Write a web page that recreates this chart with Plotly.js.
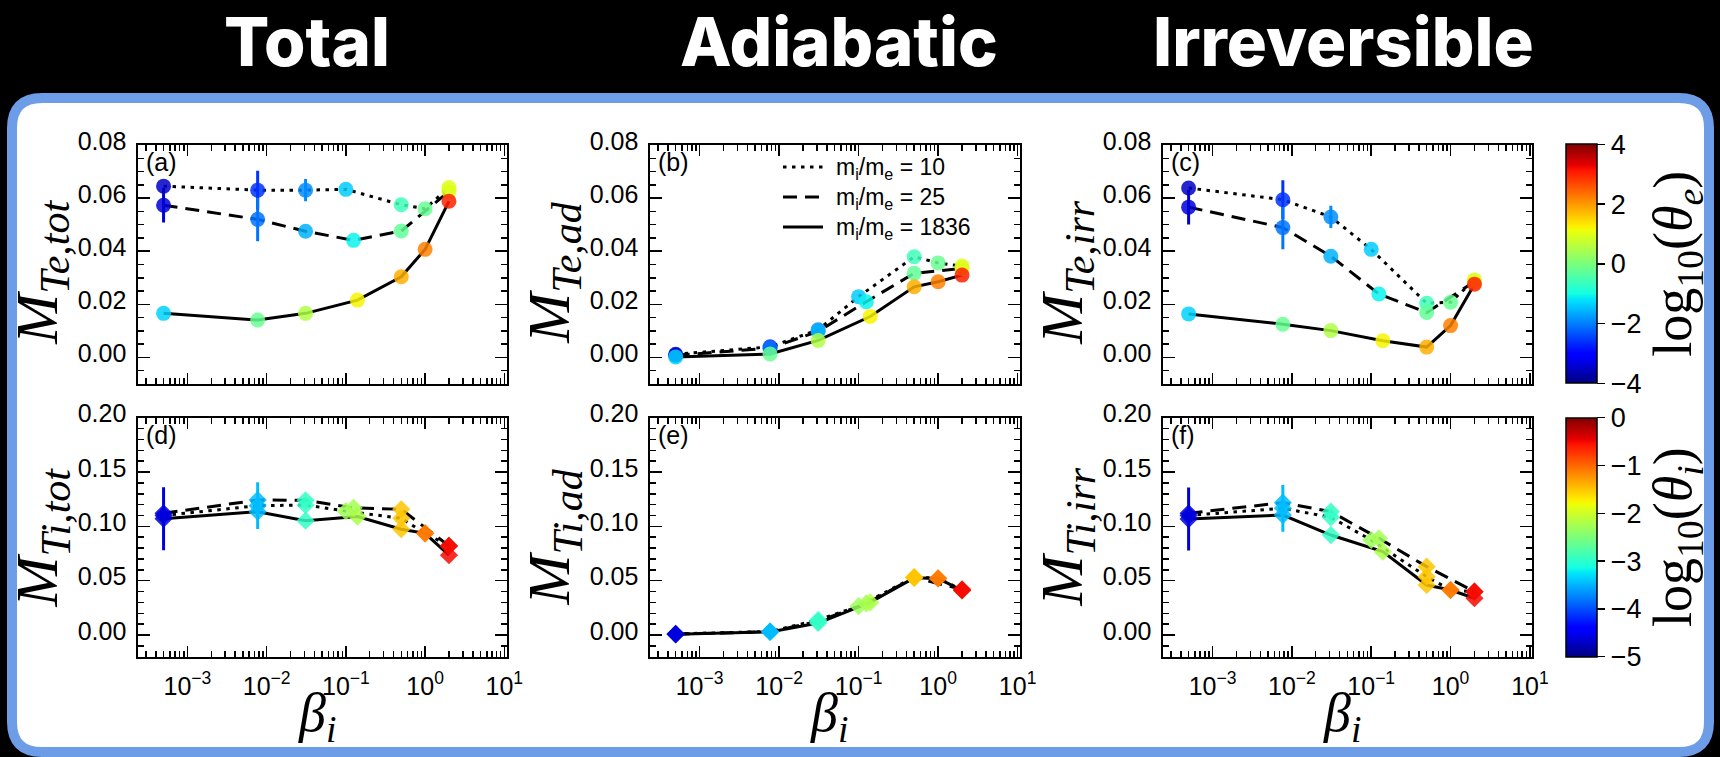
<!DOCTYPE html>
<html><head><meta charset="utf-8">
<script src="https://cdn.plot.ly/plotly-3.0.1.min.js"></script>
<style>html,body{margin:0;padding:0;background:#000;} #chart{width:1720px;height:757px;}</style>
</head><body><div id="chart"></div>
<script>
// ---------------- DATA ----------------
const columnTitles = ['Total', 'Adiabatic', 'Irreversible'];
const panelLabels = ['(a)', '(b)', '(c)', '(d)', '(e)', '(f)'];
const seriesNames = ['m<sub>i</sub>/m<sub>e</sub> = 10', 'm<sub>i</sub>/m<sub>e</sub> = 25', 'm<sub>i</sub>/m<sub>e</sub> = 1836'];
const xTickVals = [1e-3, 1e-2, 1e-1, 1, 10];
const xTickText = ['10<sup>\u22123</sup>', '10<sup>\u22122</sup>', '10<sup>\u22121</sup>', '10<sup>0</sup>', '10<sup>1</sup>'];

const beta10   = [5e-4, 7.7e-3, 0.031, 0.10, 0.5, 1.0, 2.0];
const beta25   = [5e-4, 7.7e-3, 0.031, 0.125, 0.5, 2.0];
const beta1836 = [5e-4, 7.7e-3, 0.031, 0.14, 0.5, 1.0, 2.0];

// electron heating, M_Te
const MTe_tot_10   = [0.0645, 0.0630, 0.0630, 0.0633, 0.0575, 0.0560, 0.0640];
const MTe_tot_25   = [0.0573, 0.0520, 0.0475, 0.0441, 0.0476, 0.0625];
const MTe_tot_1836 = [0.0166, 0.0141, 0.0166, 0.0216, 0.0304, 0.0407, 0.0588];
const MTe_ad_10    = [0.0012, 0.0040, 0.0104, 0.0229, 0.0379, 0.0356, 0.0344];
const MTe_ad_25    = [0.0008, 0.0035, 0.0098, 0.0210, 0.0317, 0.0335];
const MTe_ad_1836  = [0.0002, 0.0013, 0.0064, 0.0154, 0.0266, 0.0285, 0.0310];
const MTe_irr_10   = [0.0638, 0.0594, 0.0529, 0.0407, 0.0204, 0.0208, 0.0292];
const MTe_irr_25   = [0.0566, 0.0489, 0.0381, 0.0239, 0.0169, 0.0285];
const MTe_irr_1836 = [0.0164, 0.0125, 0.0101, 0.0063, 0.0039, 0.0120, 0.0276];
const errTe_10     = [0, 0.0073, 0.0042, 0, 0, 0, 0];
const errTe_25     = [0.0065, 0.0082, 0, 0, 0, 0];
const errTe_1836   = [0, 0, 0, 0, 0, 0, 0];

// ion heating, M_Ti
const MTi_tot_10   = [0.1100, 0.1190, 0.1196, 0.1140, 0.1074, 0.0936, 0.0820];
const MTi_tot_25   = [0.1120, 0.1242, 0.1240, 0.1170, 0.1157, 0.0820];
const MTi_tot_1836 = [0.1070, 0.1135, 0.1052, 0.1090, 0.0973, 0.0936, 0.0735];
const MTi_ad_10    = [0.0010, 0.0032, 0.0138, 0.0265, 0.0532, 0.0522, 0.0415];
const MTi_ad_25    = [0.0008, 0.0030, 0.0125, 0.0290, 0.0528, 0.0420];
const MTi_ad_1836  = [0.0006, 0.0028, 0.0110, 0.0300, 0.0526, 0.0520, 0.0410];
const MTi_irr_10   = [0.1100, 0.1166, 0.1083, 0.0874, 0.0537, 0.0414, 0.0399];
const MTi_irr_25   = [0.1120, 0.1218, 0.1135, 0.0890, 0.0629, 0.0399];
const MTi_irr_1836 = [0.1067, 0.1104, 0.0920, 0.0767, 0.0460, 0.0414, 0.0338];
const errTi_10     = [0, 0.0215, 0, 0, 0, 0, 0];
const errTi_25     = [0, 0, 0, 0, 0, 0];
const errTi_1836   = [0.029, 0, 0, 0, 0, 0, 0];

// colour values
const logThetaE_10   = [-3.5, -2.6, -1.9, -1.4, -0.6, -0.2, 0.95];
const logThetaE_25   = [-3.4, -2.1, -1.6, -1.1, -0.25, 0.95];
const logThetaE_1836 = [-1.35, -0.2, 0.5, 1.2, 1.8, 2.2, 3.0];
const logThetaI_10   = [-4.6, -3.45, -2.95, -2.3, -1.5, -1.1, -0.5];
const logThetaI_25   = [-4.6, -3.45, -2.95, -2.25, -1.5, -0.5];
const logThetaI_1836 = [-4.6, -3.45, -2.95, -2.2, -1.5, -1.1, -0.5];

// ---------------- STYLE / LAYOUT HELPERS ----------------
const W = 1720, H = 757;
const X = px => px / W;
const Y = py => 1 - py / H;

const jet = [[0,'rgb(0,0,128)'],[0.11,'rgb(0,0,255)'],[0.125,'rgb(0,0,255)'],[0.34,'rgb(0,219,255)'],[0.35,'rgb(0,229,247)'],[0.375,'rgb(21,255,226)'],[0.64,'rgb(238,255,8)'],[0.65,'rgb(247,245,0)'],[0.66,'rgb(255,236,0)'],[0.89,'rgb(255,19,0)'],[0.91,'rgb(232,0,0)'],[1,'rgb(128,0,0)']];
function jetColor(v, lo, hi) {
  let t = Math.min(1, Math.max(0, (v - lo) / (hi - lo)));
  for (let i = 1; i < jet.length; i++) {
    if (t <= jet[i][0]) {
      const a = jet[i-1], b = jet[i];
      const f = (t - a[0]) / (b[0] - a[0] || 1);
      const ca = a[1].match(/\d+/g).map(Number), cb = b[1].match(/\d+/g).map(Number);
      const c = ca.map((x, k) => Math.round(x + (cb[k] - x) * f));
      return 'rgb(' + c.join(',') + ')';
    }
  }
  return jet[jet.length-1][1];
}

const colL = [138.3, 650.3, 1163.3], colR = [506.7, 1020, 1532.3];
const rowT = [145, 417.7], rowB = [384, 656.7];
const betas = [beta10, beta25, beta1836];
const dashes = ['3.5px,5.5px', '14px,8px', 'solid'];
const SANS = 'Liberation Sans, Arial, sans-serif';
const SERIF = 'Liberation Serif, serif';

const panels = [
  {vals:[MTe_tot_10, MTe_tot_25, MTe_tot_1836], errs:[errTe_10, errTe_25, errTe_1836], cols:[logThetaE_10, logThetaE_25, logThetaE_1836], row:0, col:0, ttl:'<i>M</i><sub><i>Te,tot</i></sub>'},
  {vals:[MTe_ad_10, MTe_ad_25, MTe_ad_1836], errs:null, cols:[logThetaE_10, logThetaE_25, logThetaE_1836], row:0, col:1, ttl:'<i>M</i><sub><i>Te,ad</i></sub>'},
  {vals:[MTe_irr_10, MTe_irr_25, MTe_irr_1836], errs:[errTe_10, errTe_25, errTe_1836], cols:[logThetaE_10, logThetaE_25, logThetaE_1836], row:0, col:2, ttl:'<i>M</i><sub><i>Te,irr</i></sub>'},
  {vals:[MTi_tot_10, MTi_tot_25, MTi_tot_1836], errs:[errTi_10, errTi_25, errTi_1836], cols:[logThetaI_10, logThetaI_25, logThetaI_1836], row:1, col:0, ttl:'<i>M</i><sub><i>Ti,tot</i></sub>'},
  {vals:[MTi_ad_10, MTi_ad_25, MTi_ad_1836], errs:null, cols:[logThetaI_10, logThetaI_25, logThetaI_1836], row:1, col:1, ttl:'<i>M</i><sub><i>Ti,ad</i></sub>'},
  {vals:[MTi_irr_10, MTi_irr_25, MTi_irr_1836], errs:[errTi_10, errTi_25, errTi_1836], cols:[logThetaI_10, logThetaI_25, logThetaI_1836], row:1, col:2, ttl:'<i>M</i><sub><i>Ti,irr</i></sub>'}
];

const minorLog = [];
for (let d = -4; d <= 1; d++) for (let k = 2; k <= 9; k++) minorLog.push(k * Math.pow(10, d));

function cbar(yc, vals, title) {
  return {x: X(1565.7), xanchor: 'left', xpad: 0, y: Y(yc), yanchor: 'middle', ypad: 0,
    len: 239, lenmode: 'pixels', thickness: 31, thicknessmode: 'pixels',
    outlinewidth: 1.5, outlinecolor: '#000', tickmode: 'array', tickvals: vals,
    ticks: 'outside', ticklen: 8, tickwidth: 1.5, tickcolor: '#000',
    tickfont: {size: 27, family: SANS, color: '#000'},
    title: {text: title, side: 'right', font: {size: 54, family: SERIF, color: '#000'}}};
}

const traces = [];
const layout = {
  width: W, height: H,
  margin: {l:0, r:0, t:0, b:0},
  paper_bgcolor: '#000', plot_bgcolor: 'rgba(0,0,0,0)',
  font: {family: SANS, color: '#000', size: 22},
  showlegend: false,
  coloraxis: {cmin: -4, cmax: 4, colorscale: jet, colorbar: cbar(263.8, [-4,-2,0,2,4], 'log<sub>10</sub>(<i>\u03b8<sub>e</sub></i>)')},
  coloraxis2: {cmin: -5, cmax: 0, colorscale: jet, colorbar: cbar(537.2, [-5,-4,-3,-2,-1,0], 'log<sub>10</sub>(<i>\u03b8<sub>i</sub></i>)')},
  shapes: [{type: 'path', xref: 'paper', yref: 'paper', layer: 'below',
    path: (function(){
      const l = 12, r = 1709, t = 98, b = 752, rad = 30;
      const P = (x, y) => X(x) + ',' + Y(y);
      return 'M' + P(l + rad, t) + ' L' + P(r - rad, t) + ' Q' + P(r, t) + ' ' + P(r, t + rad) +
             ' L' + P(r, b - rad) + ' Q' + P(r, b) + ' ' + P(r - rad, b) +
             ' L' + P(l + rad, b) + ' Q' + P(l, b) + ' ' + P(l, b - rad) +
             ' L' + P(l, t + rad) + ' Q' + P(l, t) + ' ' + P(l + rad, t) + ' Z';
    })(),
    fillcolor: '#fff', line: {color: '#6c9de6', width: 10}}],
  annotations: []
};

// legend drawn inside panel (b): line samples + one multi-line text block
const legFont = 23, legStep = legFont * 1.3, legMid = 199;
seriesNames.forEach((nm, s) => {
  const yy = legMid + (s - 1) * legStep - 2;
  layout.shapes.push({type: 'line', xref: 'paper', yref: 'paper', x0: X(783), x1: X(823), y0: Y(yy), y1: Y(yy),
    line: {color: '#000', width: 3, dash: dashes[s]}});
});
layout.annotations.push({text: seriesNames.join('<br>'), xref: 'paper', yref: 'paper', x: X(834), y: Y(legMid), xanchor: 'left', yanchor: 'middle',
  align: 'left', showarrow: false, font: {size: legFont, family: SANS, color: '#000'}});

columnTitles.forEach((t, i) => {
  const cx = [307, 839, 1343][i];
  layout.annotations.push({text: t, xref: 'paper', yref: 'paper', x: X(cx), y: Y(41), xanchor: 'center', yanchor: 'middle',
    showarrow: false, font: {family: 'Inter, Open Sans, sans-serif', size: 67, weight: 800, color: '#fff'}});
});

panels.forEach((p, i) => {
  const n = i + 1;
  const xa = 'x' + (n === 1 ? '' : n), ya = 'y' + (n === 1 ? '' : n);
  const xkey = 'xaxis' + (n === 1 ? '' : n), ykey = 'yaxis' + (n === 1 ? '' : n);
  const top = p.row === 0;
  const cax = top ? 'coloraxis' : 'coloraxis2';
  const lo = top ? -4 : -5, hi = top ? 4 : 0;
  for (let s = 0; s < 3; s++) {
    traces.push({type: 'scatter', mode: 'lines', x: betas[s], y: p.vals[s], xaxis: xa, yaxis: ya,
      line: {color: '#000', width: 3, dash: dashes[s]}, name: seriesNames[s], showlegend: false, hoverinfo: 'skip'});
  }
  if (p.errs) {
    for (let s = 0; s < 3; s++) {
      p.errs[s].forEach((e, k) => {
        if (e > 0) {
          traces.push({type: 'scatter', mode: 'lines', x: [betas[s][k], betas[s][k]], y: [p.vals[s][k] - e, p.vals[s][k] + e],
            xaxis: xa, yaxis: ya, line: {color: jetColor(p.cols[s][k], lo, hi), width: 3}, showlegend: false, hoverinfo: 'skip'});
        }
      });
    }
  }
  for (let s = 0; s < 3; s++) {
    traces.push({type: 'scatter', mode: 'markers', x: betas[s], y: p.vals[s], xaxis: xa, yaxis: ya, showlegend: false,
      marker: {color: p.cols[s], coloraxis: cax, symbol: top ? 'circle' : 'diamond', size: top ? 15 : 14, opacity: 0.85, line: {width: 0}}});
  }
  const L = colL[p.col], R = colR[p.col], T = rowT[p.row], B = rowB[p.row];
  layout[xkey] = {domain: [X(L), X(R)], anchor: ya, type: 'log', range: [-3.62, 1.03],
    tickmode: 'array', tickvals: xTickVals, ticktext: xTickText, showticklabels: !top,
    tickfont: {size: 25}, ticks: 'inside', ticklen: 11, tickwidth: 1.5, tickcolor: '#000',
    mirror: 'allticks', showline: true, linewidth: 2, linecolor: '#000', showgrid: false, zeroline: false,
    ticklabelstandoff: 6,
    minor: {tickmode: 'array', tickvals: minorLog, ticks: 'inside', ticklen: 6, tickwidth: 1.5, tickcolor: '#000', showgrid: false}};
  layout[ykey] = {domain: [Y(B), Y(T)], anchor: xa, range: top ? [-0.01, 0.08] : [-0.02, 0.20],
    tickmode: 'linear', tick0: 0, dtick: top ? 0.02 : 0.05, tickformat: '.2f',
    tickfont: {size: 25}, ticks: 'inside', ticklen: 12, tickwidth: 1.5, tickcolor: '#000',
    mirror: 'allticks', showline: true, linewidth: 2, linecolor: '#000', showgrid: false, zeroline: false,
    ticklabelstandoff: 5, ticklabelshift: -4,
    minor: {dtick: top ? 0.005 : 0.01, ticks: 'inside', ticklen: 6, tickwidth: 1.5, tickcolor: '#000', showgrid: false}};
  layout.annotations.push({text: panelLabels[i], xref: 'paper', yref: 'paper', x: X(L + 6), y: Y(T + 1), xanchor: 'left', yanchor: 'top',
    showarrow: false, font: {size: 25, family: SANS, color: '#000'}});
  layout.annotations.push({text: p.ttl, xref: 'paper', yref: 'paper', x: X(L - 97), y: Y((T + B) / 2 + (top ? 8 : 0)), xanchor: 'center', yanchor: 'middle',
    textangle: -90, showarrow: false, font: {size: 60, family: SERIF, color: '#000'}});
  if (!top) {
    layout.annotations.push({text: '<i>\u03b2<sub>i</sub></i>', xref: 'paper', yref: 'paper', x: X((L + R) / 2 - 6), y: Y(716), xanchor: 'center', yanchor: 'middle',
      showarrow: false, font: {size: 54, family: SERIF, color: '#000'}});
  }
});

Plotly.newPlot('chart', traces, layout, {displayModeBar: false, staticPlot: true});
</script></body></html>
